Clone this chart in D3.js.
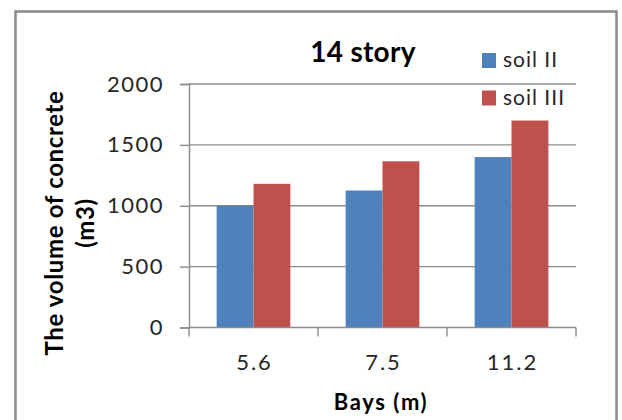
<!DOCTYPE html>
<html>
<head>
<meta charset="utf-8">
<script src="https://cdn.jsdelivr.net/npm/d3@7"></script>
<style>
  html, body { margin: 0; padding: 0; background: #ffffff; }
  svg { display: block; }
  text { font-family: Lato, "Open Sans", sans-serif; }
</style>
</head>
<body>
<svg id="chart" width="622" height="420"></svg>
<script>
// Chart data
const categories = ["5.6", "7.5", "11.2"];
const seriesNames = ["soil II", "soil III"];
const soilII = [1000, 1125, 1400];
const soilIII = [1180, 1365, 1700];
const yTicks = [0, 500, 1000, 1500, 2000];
const titleText = "14 story";
const xTitle = "Bays (m)";
const yTitleLines = ["The volume of concrete", "(m3)"];

const colors = ["#4F81BD", "#C0504D"];
const seriesValues = [soilII, soilIII];

const svg = d3.select("#chart");

// Chart frame
svg.append("rect")
  .attr("x", 15.5).attr("y", 11.5)
  .attr("width", 601).attr("height", 430)
  .attr("fill", "#fff")
  .attr("stroke", "#8a8a8a")
  .attr("stroke-width", 2.5);

const plot = { left: 189, right: 576, top: 84, bottom: 327.5 };

const x = d3.scaleBand().domain(categories).range([plot.left, plot.right]).padding(0);
const xInner = d3.scaleBand().domain(seriesNames).range([0, x.bandwidth()])
  .paddingInner(0).paddingOuter(0.75);
const y = d3.scaleLinear().domain([0, 2000]).range([plot.bottom, plot.top]);

// Horizontal gridlines
svg.append("g").selectAll("line").data(yTicks.filter(d => d > 0)).join("line")
  .attr("x1", plot.left).attr("x2", plot.right)
  .attr("y1", d => y(d)).attr("y2", d => y(d))
  .attr("stroke", "#8c8c8c").attr("stroke-width", 1.4);

// Bars
const rows = categories.map((c, i) => ({ cat: c, vals: seriesNames.map((s, j) => ({ s, j, v: seriesValues[j][i] })) }));
svg.append("g").selectAll("g").data(rows).join("g")
  .attr("transform", d => `translate(${x(d.cat)},0)`)
  .selectAll("rect").data(d => d.vals).join("rect")
  .attr("x", d => xInner(d.s))
  .attr("width", xInner.bandwidth())
  .attr("y", d => y(d.v))
  .attr("height", d => y(0) - y(d.v))
  .attr("fill", d => colors[d.j]);

// Y axis
const yAxis = d3.axisLeft(y).tickValues(yTicks).tickSize(9).tickPadding(16).tickFormat(d3.format("d"));
const gy = svg.append("g").attr("transform", `translate(${plot.left},0)`).call(yAxis);
gy.select(".domain").attr("stroke", "#8c8c8c").attr("stroke-width", 1.4);
gy.selectAll(".tick line").attr("stroke", "#8c8c8c").attr("stroke-width", 1.4);
gy.selectAll(".tick text").attr("font-family", "Lato, sans-serif").attr("font-size", 22)
  .attr("letter-spacing", 1.5)
  .attr("fill", "#262626");

// X axis with ticks at category boundaries
svg.append("line")
  .attr("x1", plot.left).attr("x2", plot.right)
  .attr("y1", y(0)).attr("y2", y(0))
  .attr("stroke", "#8c8c8c").attr("stroke-width", 1.4);
const bounds = categories.map(c => x(c)).concat([x(categories[categories.length - 1]) + x.bandwidth()]);
svg.append("g").selectAll("line").data(bounds).join("line")
  .attr("x1", d => d).attr("x2", d => d)
  .attr("y1", y(0)).attr("y2", y(0) + 9)
  .attr("stroke", "#8c8c8c").attr("stroke-width", 1.4);
svg.append("g").selectAll("text").data(categories).join("text")
  .attr("x", d => x(d) + x.bandwidth() / 2 + 1)
  .attr("y", 370)
  .attr("text-anchor", "middle")
  .attr("font-size", 22)
  .attr("letter-spacing", 2)
  .attr("fill", "#262626")
  .text(d => d);

// Titles
svg.append("text")
  .attr("x", 363).attr("y", 62)
  .attr("text-anchor", "middle")
  .attr("font-size", 28).attr("font-weight", "bold")
  .attr("letter-spacing", 0.3)
  .attr("fill", "#000")
  .text(titleText);

svg.append("text")
  .attr("x", 381).attr("y", 410)
  .attr("text-anchor", "middle")
  .attr("font-size", 22).attr("font-weight", "bold")
  .attr("letter-spacing", 1.6)
  .attr("fill", "#000")
  .text(xTitle);

const yt = svg.append("text")
  .attr("transform", "translate(0,223) rotate(-90)")
  .attr("text-anchor", "middle")
  .attr("font-size", 24).attr("font-weight", "bold")
  .attr("letter-spacing", 0.65)
  .attr("fill", "#000");
yt.append("tspan").attr("x", 0).attr("y", 63).text(yTitleLines[0]);
yt.append("tspan").attr("x", 0).attr("y", 94).text(yTitleLines[1]);

// Legend
const legend = svg.append("g").selectAll("g").data(seriesNames).join("g")
  .attr("transform", (d, i) => `translate(482,${53 + i * 37.5})`);
legend.append("rect")
  .attr("width", 14).attr("height", 15)
  .attr("fill", (d, i) => colors[i]);
legend.append("text")
  .attr("x", 21).attr("y", 14)
  .attr("font-size", 21)
  .attr("letter-spacing", 1)
  .attr("fill", "#262626")
  .text(d => d);
</script>
</body>
</html>
